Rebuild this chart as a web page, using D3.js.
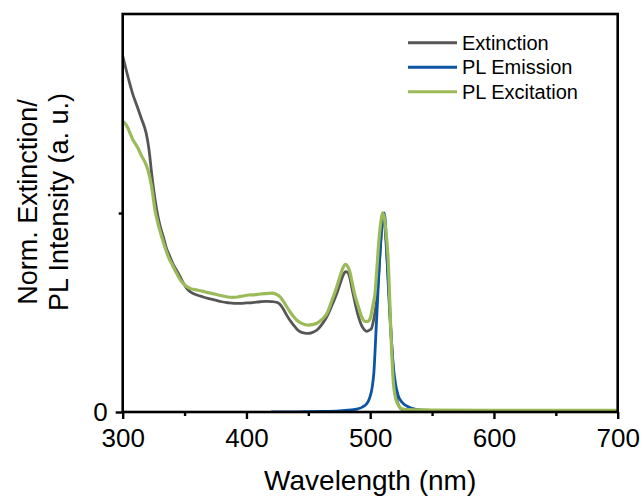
<!DOCTYPE html>
<html>
<head>
<meta charset="utf-8">
<script src="https://cdn.jsdelivr.net/npm/d3@7/dist/d3.min.js"></script>
<style>
  html, body { margin: 0; padding: 0; background: #fff; }
  svg { display: block; font-family: "Liberation Sans", Arial, Helvetica, sans-serif; }
</style>
</head>
<body>
<svg id="chart" width="643" height="497"></svg>
<script>
// Spectra: [wavelength (nm), normalised intensity]
const extinction = [
  [300,1.79],[304,1.69],[308,1.60],[312,1.53],[315,1.476],[319,1.40],[321,1.33],[322,1.28],
  [323,1.22],[324.7,1.132],[327.5,1.015],[330,0.94],[332.8,0.881],[335,0.83],[338.2,0.78],
  [341,0.74],[345,0.697],[348,0.66],[351.7,0.621],[355,0.602],[360,0.588],[365,0.578],
  [369,0.571],[375,0.562],[380,0.554],[385,0.549],[390,0.546],[395,0.546],[400,0.548],
  [405,0.55],[411,0.554],[416,0.556],[421,0.555],[425,0.55],[427,0.541],[430,0.515],
  [432.5,0.487],[435,0.462],[438,0.437],[441,0.415],[443.5,0.403],[447,0.396],[450,0.395],
  [453,0.399],[457,0.412],[461,0.44],[465,0.48],[469,0.535],[473,0.596],[476,0.65],
  [478,0.685],[480,0.705],[482,0.7],[483.5,0.675],[485,0.63],[487,0.57],[490,0.49],
  [493,0.435],[495,0.415],[497,0.405],[499,0.41],[501,0.42],[503,0.47],[505,0.55],
  [507,0.7],[508.5,0.85],[509.5,0.96],[510.2,1.0],[511,0.98],[512,0.92],[513.5,0.78],
  [515,0.62],[516.5,0.44],[518,0.27],[519.5,0.15],[521,0.08],[522.5,0.04],[524.5,0.018],
  [527,0.01],[532,0.007],[550,0.005],[600,0.004],[650,0.004],[700,0.004]
];

const plEmission = [
  [420,0],[440,0.001],[460,0.003],[475,0.006],[485,0.01],[490,0.016],[494,0.026],[497,0.04],
  [499.5,0.07],[501.5,0.12],[503,0.2],[504.5,0.38],[506,0.57],[507.5,0.76],[509,0.9],
  [510.5,0.99],[511.3,1.0],[512.2,0.96],[513.3,0.82],[514.6,0.64],[516,0.47],[517.4,0.335],
  [519,0.21],[520.5,0.14],[522.5,0.085],[525.5,0.05],[529,0.032],[533,0.02],[540,0.01],
  [550,0.006],[580,0.004],[620,0.004],[660,0.006],[700,0.007]
];

const plExcitation = [
  [300,1.46],[302,1.45],[304.3,1.425],[306,1.40],[308.3,1.367],[310,1.35],[312.4,1.325],
  [315,1.29],[317.8,1.258],[320.4,1.216],[323.4,1.132],[326.1,1.015],[328.8,0.94],
  [331.5,0.881],[334,0.83],[336.9,0.78],[340,0.74],[343.6,0.697],[347,0.66],[351.7,0.63],
  [355,0.62],[360,0.613],[365,0.606],[369,0.6],[375,0.592],[380,0.584],[385,0.578],
  [389,0.576],[393,0.578],[397,0.583],[402,0.588],[406,0.589],[411,0.593],[416,0.595],
  [421,0.597],[424,0.592],[427,0.58],[430,0.555],[432.5,0.53],[435,0.505],[438,0.48],
  [441,0.46],[443.5,0.449],[447,0.44],[450,0.437],[453,0.439],[457,0.446],[461,0.465],
  [465,0.495],[469,0.56],[473,0.63],[476,0.69],[478,0.725],[480,0.742],[482,0.73],
  [483.5,0.705],[485,0.663],[487.5,0.59],[490.4,0.53],[493,0.48],[495.8,0.455],[498,0.455],
  [500,0.47],[502,0.53],[503.9,0.596],[505.2,0.7],[507,0.86],[508.5,0.95],[509.8,1.0],
  [511,0.99],[512.5,0.92],[514.6,0.755],[516.6,0.42],[518.7,0.15],[520.5,0.07],
  [522.7,0.035],[525,0.018],[530,0.012],[550,0.01],[600,0.008],[650,0.008],[700,0.008]
];

const seriesNames  = ["Extinction", "PL Emission", "PL Excitation"];
const seriesColors = ["#565656", "#0b55a3", "#9bbb59"];
const xMajorTicks  = [300, 400, 500, 600, 700];
const xMinorTicks  = [350, 450, 550, 650];
const yMajorTicks  = [0];
const yMinorTicks  = [1];

const svg = d3.select("#chart");
const plotLeft = 122.7, plotRight = 617.7, plotTop = 14, plotBottom = 412;

const x = d3.scaleLinear().domain([300, 700]).range([plotLeft, plotRight]);
const y = d3.scaleLinear().domain([0, 2]).range([plotBottom, plotTop]);

svg.append("defs").append("clipPath").attr("id", "plot-clip")
  .append("rect").attr("x", plotLeft).attr("y", plotTop)
  .attr("width", plotRight - plotLeft).attr("height", plotBottom - plotTop);

const line = d3.line()
  .x(d => x(d[0]))
  .y(d => y(d[1]))
  .curve(d3.curveMonotoneX);

const plot = svg.append("g").attr("clip-path", "url(#plot-clip)");
[extinction, plEmission, plExcitation].forEach((data, i) => {
  plot.append("path")
    .datum(data)
    .attr("fill", "none")
    .attr("stroke", seriesColors[i])
    .attr("stroke-width", i === 2 ? 3.2 : 2.8)
    .attr("stroke-linejoin", "round")
    .attr("d", line);
});

// Axes
const axisFont = 26;
svg.append("g").attr("transform", `translate(0,${plotBottom})`)
  .call(d3.axisBottom(x).tickValues(xMajorTicks).tickSize(7).tickPadding(10).tickFormat(d3.format("d")));
svg.append("g").attr("transform", `translate(0,${plotBottom})`)
  .call(d3.axisBottom(x).tickValues(xMinorTicks).tickSize(4).tickFormat(""));
svg.append("g").attr("transform", `translate(${plotLeft},0)`)
  .call(d3.axisLeft(y).tickValues(yMajorTicks).tickSize(7).tickPadding(8).tickFormat(d3.format("d")));
svg.append("g").attr("transform", `translate(${plotLeft},0)`)
  .call(d3.axisLeft(y).tickValues(yMinorTicks).tickSize(4).tickFormat(""));

svg.selectAll(".domain").remove();
svg.selectAll(".tick line").attr("stroke", "#000").attr("stroke-width", 2.4);
svg.selectAll(".tick text").attr("fill", "#000")
  .style("font-size", axisFont + "px")
  .style("font-family", "'Liberation Sans', Arial, sans-serif");

// Frame
svg.append("rect")
  .attr("x", plotLeft).attr("y", plotTop)
  .attr("width", plotRight - plotLeft).attr("height", plotBottom - plotTop)
  .attr("fill", "none").attr("stroke", "#000").attr("stroke-width", 2.6);

// Axis titles
svg.append("text")
  .attr("x", (plotLeft + plotRight) / 2).attr("y", 490)
  .attr("text-anchor", "middle")
  .style("font-size", "28px")
  .text("Wavelength (nm)");

const yTitle = svg.append("text")
  .attr("transform", "translate(0,202) rotate(-90)")
  .attr("text-anchor", "middle")
  .style("font-size", "27px");
yTitle.append("tspan").attr("x", 0).attr("y", 37).text("Norm. Extinction/");
yTitle.append("tspan").attr("x", 0).attr("y", 68).text("PL Intensity (a. u.)");

// Legend
const legend = svg.append("g");
seriesNames.forEach((name, i) => {
  const ly = 42.7 + i * 24.5;
  legend.append("line")
    .attr("x1", 408).attr("x2", 457).attr("y1", ly).attr("y2", ly)
    .attr("stroke", seriesColors[i]).attr("stroke-width", 3);
  legend.append("text")
    .attr("x", 462).attr("y", ly + 7)
    .style("font-size", "20px")
    .text(name);
});
</script>
</body>
</html>
